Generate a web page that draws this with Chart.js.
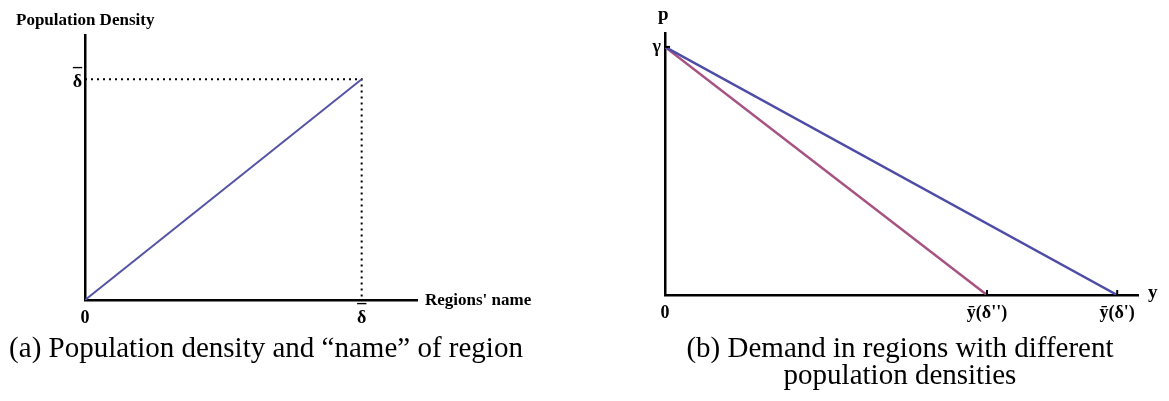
<!DOCTYPE html>
<html>
<head>
<meta charset="utf-8">
<script src="https://cdn.jsdelivr.net/npm/chart.js@4"></script>
<style>
  body { margin: 0; background: #fff; width: 1169px; height: 401px; position: relative; overflow: hidden; }
  canvas { position: absolute; top: 0; }
  .lbl { position: absolute; font-family: "Liberation Serif", "DejaVu Serif", serif; font-weight: bold; color: #000; white-space: nowrap; line-height: 1; transform: translateY(-50%); }
  .cap { position: absolute; font-family: "Liberation Serif", "DejaVu Serif", serif; font-size: 29px; color: #000; white-space: nowrap; line-height: 27px; text-align: center; transform: translateX(-50%); }
</style>
</head>
<body>
<canvas id="densityChart" style="left:0px" width="560" height="335"></canvas>
<canvas id="demandChart" style="left:560px" width="609" height="335"></canvas>

<div class="lbl" style="left:16px; top:19px; font-size:17px;">Population Density</div>
<div class="lbl" style="left:425px; top:299px; font-size:17px;">Regions' name</div>
<div class="lbl" style="left:658px; top:13px; font-size:19px;">p</div>
<div class="lbl" style="left:1148px; top:291px; font-size:19px;">y</div>

<div class="cap" style="left:266px; top:334px;">(a) Population density and “name” of region</div>
<div class="cap" style="left:900px; top:334px;">(b) Demand in regions with different<br>population densities</div>

<script>
// panel (a): density grows linearly with the region's "name"
const regionName = [0, 1];
const density = [0, 1];
const densityXTicks = [0, 1];
const densityXLabels = [['', '0'], ['¯', 'δ']];   // delta-bar, bar on its own line
const densityYTicks = [1];
const densityYLabels = [['¯', 'δ']];

// panel (b): two linear demand curves starting at gamma
const demandQtyHigh = [0, 1];      // y(δ')
const demandQtyLow = [0, 0.712];   // y(δ'')
const demandPrice = [1, 0];
const demandXTicks = [0, 0.712, 1];
const demandXLabels = ['0', 'ȳ(δ\'\')', 'ȳ(δ\')'];
const demandYTicks = [1];
const demandYLabels = ['γ'];

const tickFont = { family: '"Liberation Serif"', size: 18, weight: 'bold' };
const deltaFont = { family: '"Liberation Serif"', size: 18, weight: 'bold', lineHeight: 0.3 };

function toPoints(xs, ys) {
  return xs.map((x, i) => ({ x: x, y: ys[i] }));
}

function fixedTicks(values) {
  return (axis) => { axis.ticks = values.map((v) => ({ value: v })); };
}

function axisOptions(min, max, values, labels, size, pad, font) {
  return {
    type: 'linear',
    min: min,
    max: max,
    afterBuildTicks: fixedTicks(values),
    afterFit: (s) => { if (s.isHorizontal()) s.height = size; else s.width = size; },
    grid: { display: false, drawTicks: false },
    border: { display: true, color: '#000', width: 2.5 },
    ticks: {
      color: '#000',
      font: font || tickFont,
      maxRotation: 0,
      autoSkip: false,
      padding: pad,
      callback: (value) => labels[values.indexOf(value)] ?? '',
    },
  };
}

// small tick marks that point into the plot, like in the drawing
const innerTicks = {
  id: 'innerTicks',
  afterDatasetsDraw(chart, args, opts) {
    if (!opts.x && !opts.y) return;
    const ctx = chart.ctx;
    const xs = chart.scales.x, ys = chart.scales.y;
    ctx.save();
    ctx.strokeStyle = '#000';
    ctx.lineWidth = 2;
    (opts.x || []).forEach((v) => {
      const px = xs.getPixelForValue(v);
      ctx.beginPath();
      ctx.moveTo(px, ys.bottom);
      ctx.lineTo(px, ys.bottom - 5);
      ctx.stroke();
    });
    (opts.y || []).forEach((v) => {
      const py = ys.getPixelForValue(v);
      ctx.beginPath();
      ctx.moveTo(xs.left, py);
      ctx.lineTo(xs.left + 5, py);
      ctx.stroke();
    });
    ctx.restore();
  },
};

new Chart(document.getElementById('densityChart'), {
  type: 'scatter',
  data: {
    datasets: [
      {
        data: toPoints(regionName, density),
        showLine: true,
        borderColor: '#5454a6',
        borderWidth: 2,
        pointRadius: 0,
      },
      {
        // dotted guides to the end point
        data: [
          { x: regionName[0], y: density[1] },
          { x: regionName[1], y: density[1] },
          { x: regionName[1], y: density[0] },
        ],
        showLine: true,
        borderColor: '#000',
        borderWidth: 2,
        borderDash: [2, 4],
        pointRadius: 0,
      },
    ],
  },
  options: {
    responsive: false,
    animation: false,
    layout: { padding: { left: 55, right: 143, top: 35, bottom: 0 } },
    plugins: { legend: { display: false }, tooltip: { enabled: false } },
    scales: {
      x: axisOptions(0, 1.2, densityXTicks, densityXLabels, 35, 10, deltaFont),
      y: axisOptions(0, 1.2, densityYTicks, densityYLabels, 30, 3, deltaFont),
    },
  },
});

new Chart(document.getElementById('demandChart'), {
  type: 'scatter',
  data: {
    datasets: [
      {
        data: toPoints(demandQtyHigh, demandPrice),
        showLine: true,
        borderColor: '#4d4ca6',
        borderWidth: 2.5,
        pointRadius: 0,
      },
      {
        data: toPoints(demandQtyLow, demandPrice),
        showLine: true,
        borderColor: '#a65282',
        borderWidth: 2.5,
        pointRadius: 0,
      },
    ],
  },
  options: {
    responsive: false,
    animation: false,
    layout: { padding: { left: 75, right: 31, top: 33, bottom: 0 } },
    plugins: {
      legend: { display: false },
      tooltip: { enabled: false },
      innerTicks: { x: demandXTicks.slice(1), y: demandYTicks },
    },
    scales: {
      x: axisOptions(0, 1.046, demandXTicks, demandXLabels, 40, 8),
      y: axisOptions(0, 1.056, demandYTicks, demandYLabels, 30, 4),
    },
  },
  plugins: [innerTicks],
});
</script>
</body>
</html>
